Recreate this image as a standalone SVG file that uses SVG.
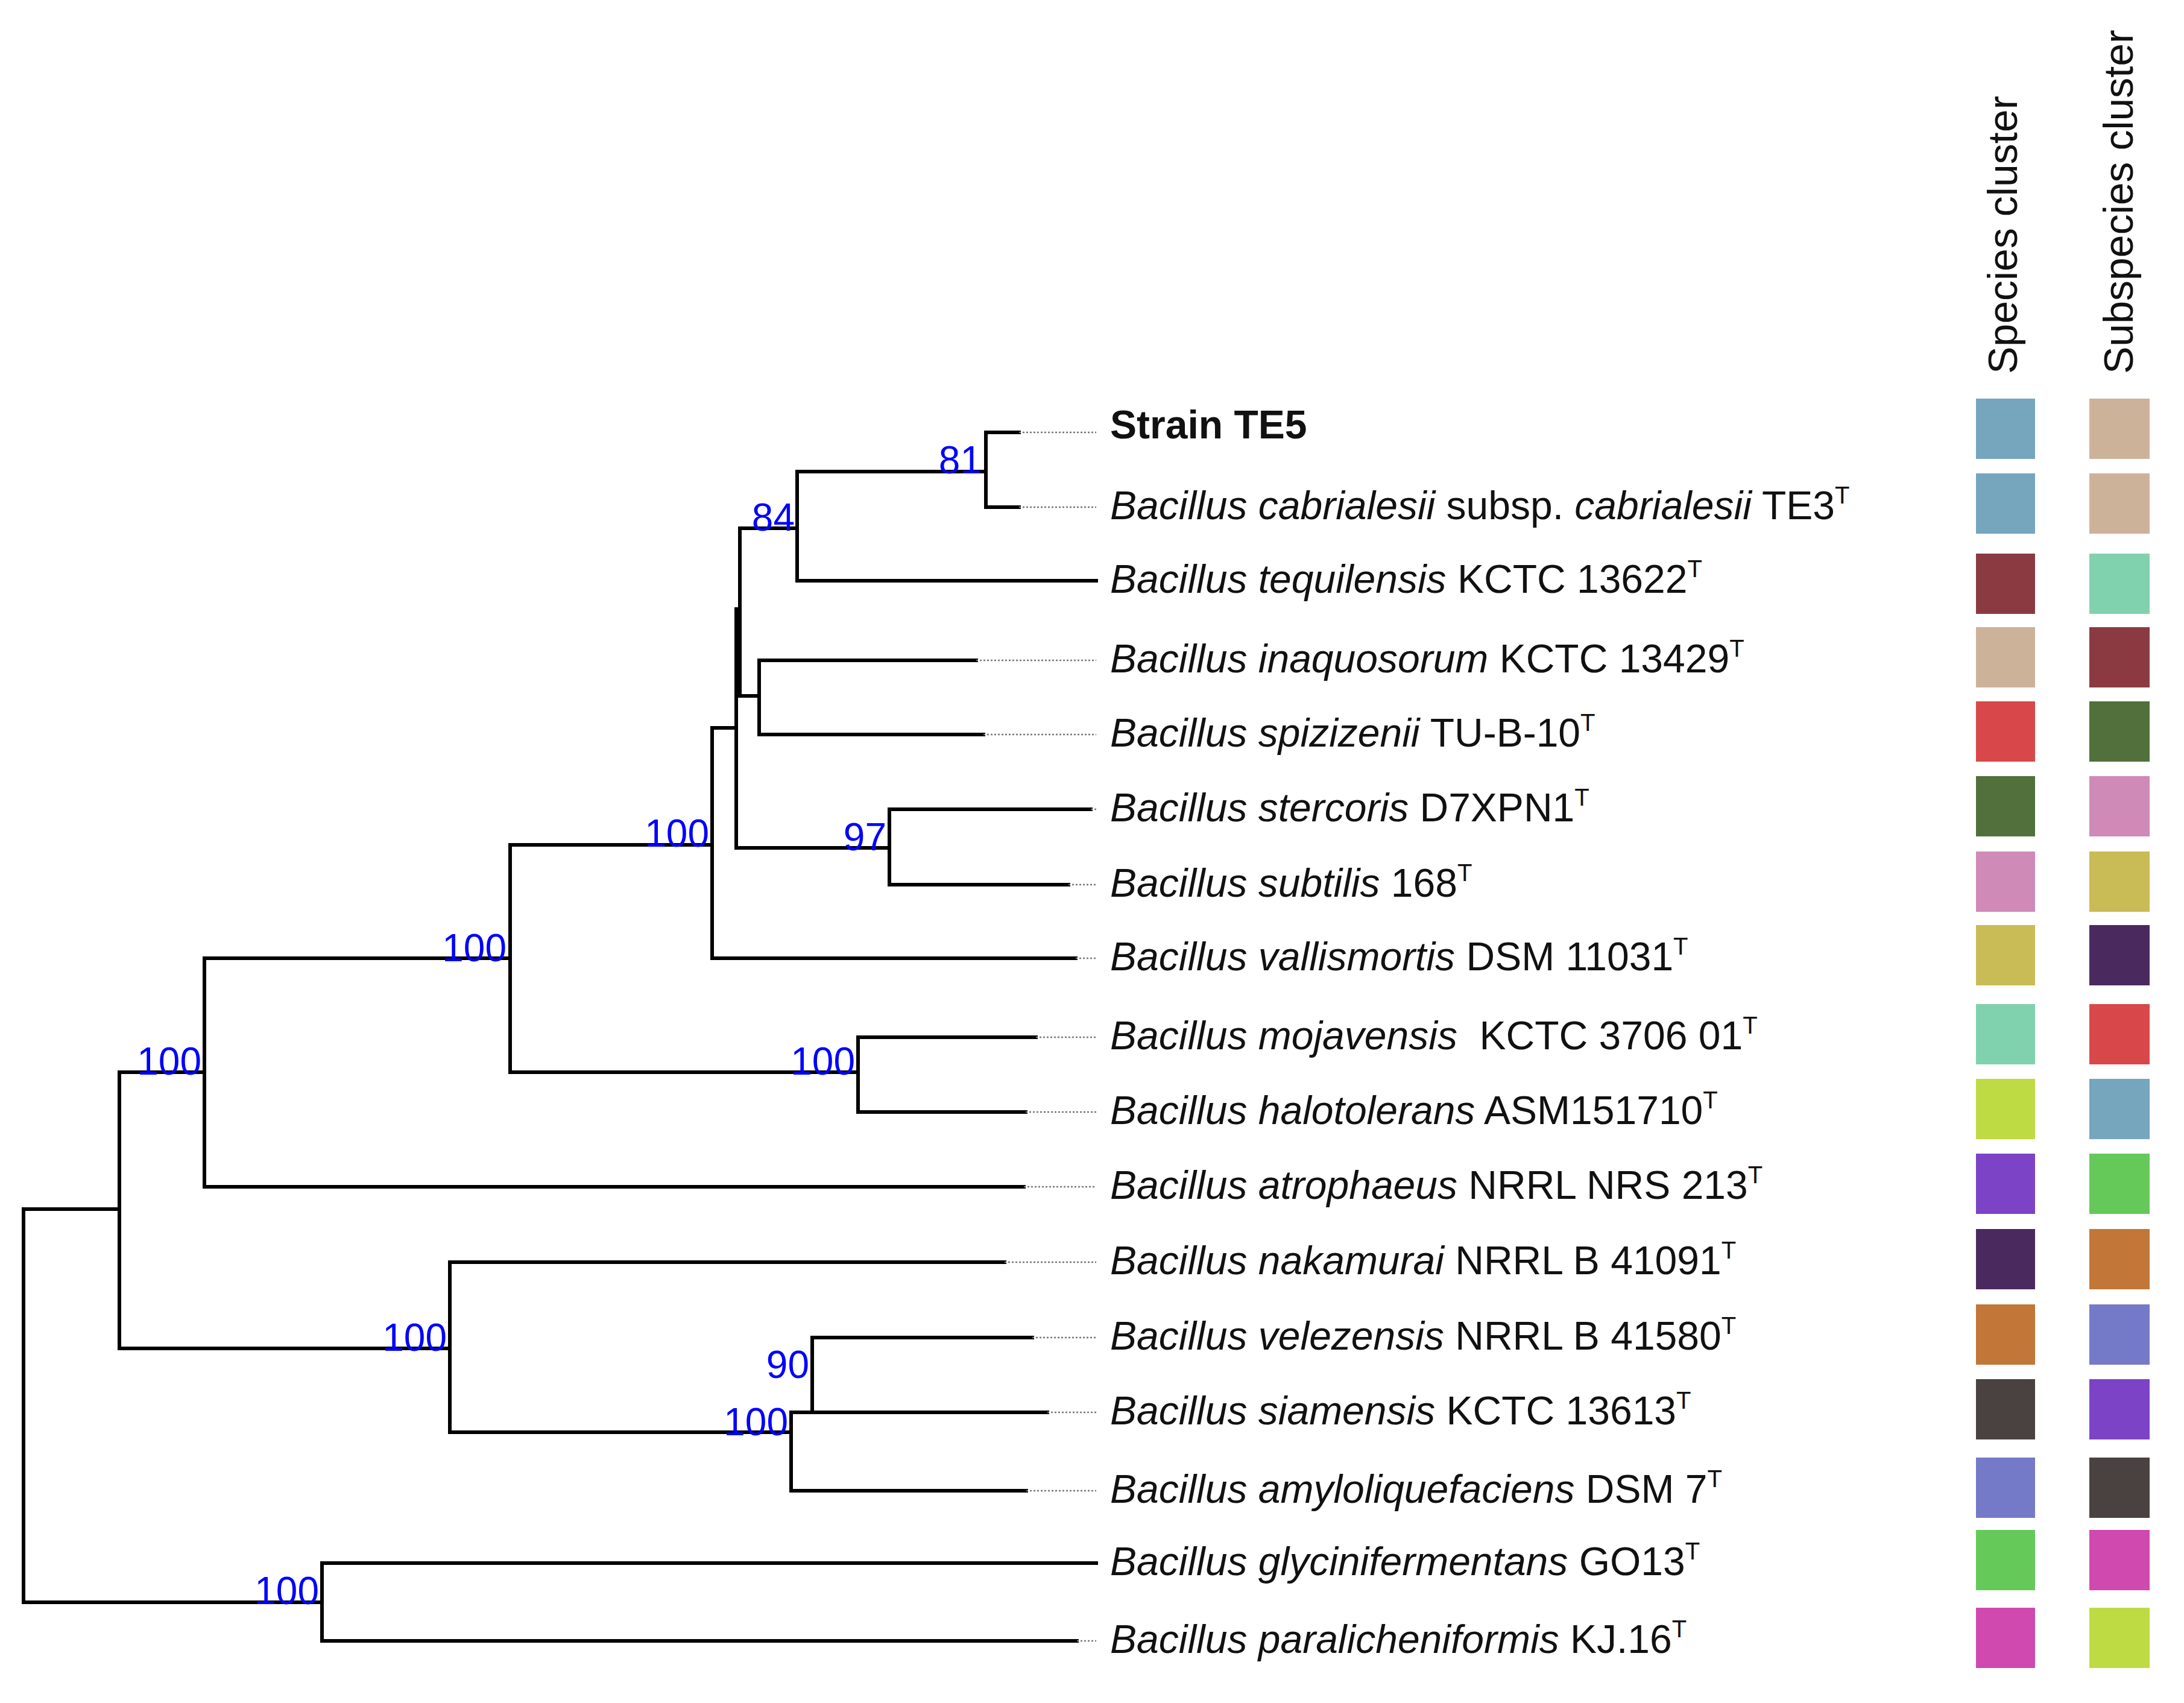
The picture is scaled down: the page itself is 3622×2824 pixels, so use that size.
<svg xmlns="http://www.w3.org/2000/svg" width="3622" height="2824" viewBox="0 0 3622 2824">
<style>
.b{stroke:#000;stroke-width:6;fill:none;stroke-linecap:square}
.d{stroke:#777;stroke-width:2.5;stroke-dasharray:3 3;fill:none}
.n{font-family:"Liberation Sans",Arial,sans-serif;font-size:64px;fill:#0000ff;text-anchor:end}
.t{font-family:"Liberation Sans",Arial,sans-serif;font-size:66px;fill:#111;white-space:pre}
.i{font-style:italic}
.s{font-size:40px}
.h{font-family:"Liberation Sans",Arial,sans-serif;font-size:68px;fill:#111}
</style>
<rect width="3622" height="2824" fill="#fff"/>
<g id="connectors">
<path class="b" d="M39 2005V2657M39 2005H198M39 2657H534"/>
<path class="b" d="M198 1778V2236M198 1778H339M198 2236H746"/>
<path class="b" d="M339 1589V1968M339 1589H846M339 1968H1698"/>
<path class="b" d="M846 1401V1778M846 1401H1181M846 1778H1423"/>
<path class="b" d="M1181 1207V1589M1181 1207H1221M1181 1589H1784"/>
<path class="b" d="M1221 1010V1406M1221 1010H1227M1221 1406H1475"/>
<path class="b" d="M1227 876V1154M1227 876H1322M1227 1154H1259"/>
<path class="b" d="M1322 782V963M1322 782H1635M1322 963H1818"/>
<path class="b" d="M1635 717V841M1635 717H1690M1635 841H1690"/>
<path class="b" d="M1259 1095V1218M1259 1095H1619M1259 1218H1631"/>
<path class="b" d="M1475 1342V1467M1475 1342H1809M1475 1467H1772"/>
<path class="b" d="M1423 1720V1844M1423 1720H1718M1423 1844H1701"/>
<path class="b" d="M746 2093V2375M746 2093H1666M746 2375H1312"/>
<path class="b" d="M1312 2342V2472M1312 2342H1347M1312 2472H1702"/>
<path class="b" d="M1347 2218V2342M1347 2218H1712M1347 2342H1737"/>
<path class="b" d="M534 2592V2721M534 2592H1818M534 2721H1786"/>
<path class="d" d="M1690 717H1818M1690 841H1818M1619 1095H1818M1631 1218H1818M1809 1342H1818M1772 1467H1818M1784 1589H1818M1718 1720H1818M1701 1844H1818M1698 1968H1818M1666 2093H1818M1712 2218H1818M1737 2342H1818M1702 2472H1818M1786 2721H1818"/>
</g>
<g id="support">
<text class="n" x="1628" y="785">81</text>
<text class="n" x="1318" y="880">84</text>
<text class="n" x="1176" y="1404">100</text>
<text class="n" x="1470" y="1410">97</text>
<text class="n" x="840" y="1594">100</text>
<text class="n" x="1418" y="1782">100</text>
<text class="n" x="334" y="1782">100</text>
<text class="n" x="741" y="2240">100</text>
<text class="n" x="1342" y="2285">90</text>
<text class="n" x="1307" y="2380">100</text>
<text class="n" x="529" y="2660">100</text>
</g>
<g id="headers">
<text class="h" transform="translate(3345,620) rotate(-90)">Species cluster</text>
<text class="h" transform="translate(3537,620) rotate(-90)">Subspecies cluster</text>
</g>
<g id="leaves">
<text class="t" x="1841" y="727" font-weight="bold">Strain TE5</text>
<text class="t" x="1841" y="861"><tspan class="i">Bacillus cabrialesii</tspan> subsp. <tspan class="i">cabrialesii</tspan> TE3<tspan class="s" dy="-26">T</tspan></text>
<text class="t" x="1841" y="983"><tspan class="i">Bacillus tequilensis</tspan> KCTC 13622<tspan class="s" dy="-26">T</tspan></text>
<text class="t" x="1841" y="1115"><tspan class="i">Bacillus inaquosorum</tspan> KCTC 13429<tspan class="s" dy="-26">T</tspan></text>
<text class="t" x="1841" y="1238"><tspan class="i">Bacillus spizizenii</tspan> TU-B-10<tspan class="s" dy="-26">T</tspan></text>
<text class="t" x="1841" y="1362"><tspan class="i">Bacillus stercoris</tspan> D7XPN1<tspan class="s" dy="-26">T</tspan></text>
<text class="t" x="1841" y="1487"><tspan class="i">Bacillus subtilis</tspan> 168<tspan class="s" dy="-26">T</tspan></text>
<text class="t" x="1841" y="1609"><tspan class="i">Bacillus vallismortis</tspan> DSM 11031<tspan class="s" dy="-26">T</tspan></text>
<text class="t" x="1841" y="1740"><tspan class="i">Bacillus mojavensis</tspan>  KCTC 3706 01<tspan class="s" dy="-26">T</tspan></text>
<text class="t" x="1841" y="1864"><tspan class="i">Bacillus halotolerans</tspan> ASM151710<tspan class="s" dy="-26">T</tspan></text>
<text class="t" x="1841" y="1988"><tspan class="i">Bacillus atrophaeus</tspan> NRRL NRS 213<tspan class="s" dy="-26">T</tspan></text>
<text class="t" x="1841" y="2113"><tspan class="i">Bacillus nakamurai</tspan> NRRL B 41091<tspan class="s" dy="-26">T</tspan></text>
<text class="t" x="1841" y="2238"><tspan class="i">Bacillus velezensis</tspan> NRRL B 41580<tspan class="s" dy="-26">T</tspan></text>
<text class="t" x="1841" y="2362"><tspan class="i">Bacillus siamensis</tspan> KCTC 13613<tspan class="s" dy="-26">T</tspan></text>
<text class="t" x="1841" y="2492"><tspan class="i">Bacillus amyloliquefaciens</tspan> DSM 7<tspan class="s" dy="-26">T</tspan></text>
<text class="t" x="1841" y="2612"><tspan class="i">Bacillus glycinifermentans</tspan> GO13<tspan class="s" dy="-26">T</tspan></text>
<text class="t" x="1841" y="2741"><tspan class="i">Bacillus paralicheniformis</tspan> KJ.16<tspan class="s" dy="-26">T</tspan></text>
</g>
<g id="species-cluster">
<rect x="3277" y="661" width="98" height="100" fill="#76A5BE"/>
<rect x="3277" y="785" width="98" height="100" fill="#76A5BE"/>
<rect x="3277" y="918" width="98" height="100" fill="#8B3A42"/>
<rect x="3277" y="1040" width="98" height="100" fill="#CDB29A"/>
<rect x="3277" y="1163" width="98" height="100" fill="#D8484A"/>
<rect x="3277" y="1287" width="98" height="100" fill="#51703B"/>
<rect x="3277" y="1412" width="98" height="100" fill="#CF8AB7"/>
<rect x="3277" y="1534" width="98" height="100" fill="#C9BB55"/>
<rect x="3277" y="1665" width="98" height="100" fill="#80D2AE"/>
<rect x="3277" y="1789" width="98" height="100" fill="#BEDB44"/>
<rect x="3277" y="1913" width="98" height="100" fill="#7C43C6"/>
<rect x="3277" y="2038" width="98" height="100" fill="#4A2A5E"/>
<rect x="3277" y="2163" width="98" height="100" fill="#C27638"/>
<rect x="3277" y="2287" width="98" height="100" fill="#4A4141"/>
<rect x="3277" y="2417" width="98" height="100" fill="#7479C8"/>
<rect x="3277" y="2537" width="98" height="100" fill="#65C95A"/>
<rect x="3277" y="2666" width="98" height="100" fill="#CF49AE"/>
</g>
<g id="subspecies-cluster">
<rect x="3465" y="661" width="100" height="100" fill="#CDB29A"/>
<rect x="3465" y="785" width="100" height="100" fill="#CDB29A"/>
<rect x="3465" y="918" width="100" height="100" fill="#80D2AE"/>
<rect x="3465" y="1040" width="100" height="100" fill="#8B3A42"/>
<rect x="3465" y="1163" width="100" height="100" fill="#51703B"/>
<rect x="3465" y="1287" width="100" height="100" fill="#CF8AB7"/>
<rect x="3465" y="1412" width="100" height="100" fill="#C9BB55"/>
<rect x="3465" y="1534" width="100" height="100" fill="#4A2A5E"/>
<rect x="3465" y="1665" width="100" height="100" fill="#D8484A"/>
<rect x="3465" y="1789" width="100" height="100" fill="#76A5BE"/>
<rect x="3465" y="1913" width="100" height="100" fill="#65C95A"/>
<rect x="3465" y="2038" width="100" height="100" fill="#C27638"/>
<rect x="3465" y="2163" width="100" height="100" fill="#7479C8"/>
<rect x="3465" y="2287" width="100" height="100" fill="#7C43C6"/>
<rect x="3465" y="2417" width="100" height="100" fill="#4A4141"/>
<rect x="3465" y="2537" width="100" height="100" fill="#CF49AE"/>
<rect x="3465" y="2666" width="100" height="100" fill="#BEDB44"/>
</g>
</svg>
